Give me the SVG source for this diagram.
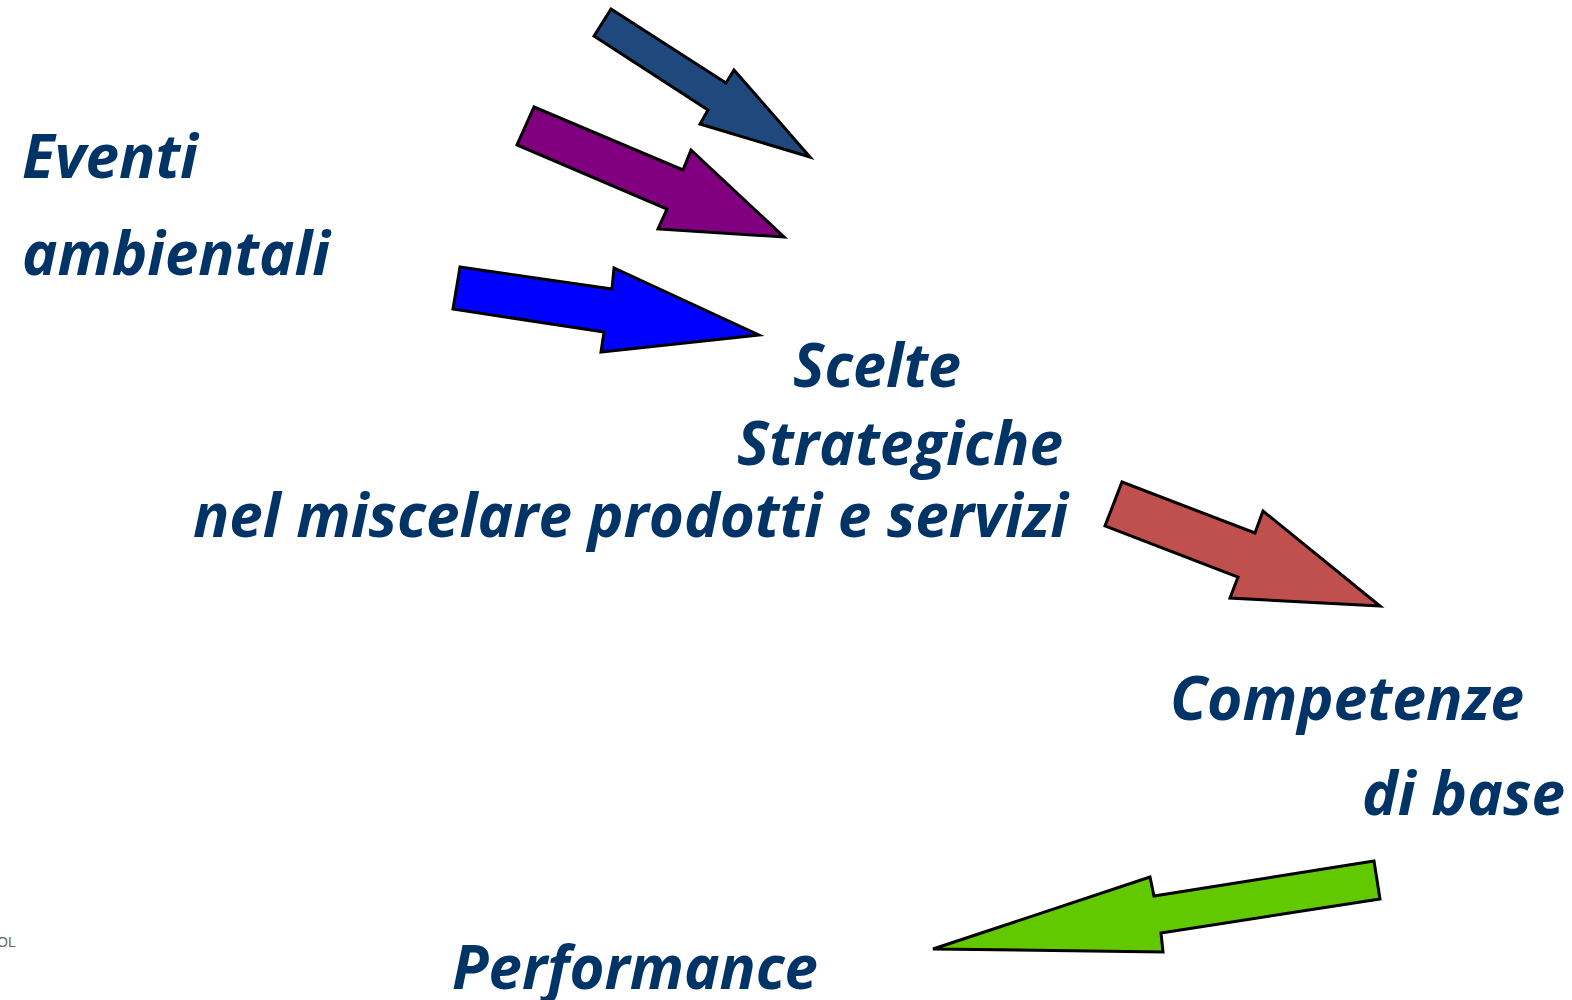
<svg xmlns="http://www.w3.org/2000/svg" width="1572" height="1000" viewBox="0 0 1572 1000">
<style>
.t{font-family:"Open Sans","Noto Sans","Liberation Sans",sans-serif;font-weight:bold;font-style:italic;font-size:61px;fill:#003366}
.a{stroke:#000;stroke-width:3;stroke-linejoin:miter}
.s{font-family:"Liberation Sans",Arial,sans-serif;font-size:14px;fill:#666}
</style>
<rect width="1572" height="1000" fill="#fff"/>
<g id="connectors">
<polygon id="arrow-darkblue" class="a" fill="#1F497D" points="611,9 726,83 734,70 810,157 700,124 708,110 594,36"/>
<polygon id="arrow-purple" class="a" fill="#800080" points="534,107 683,170 691,150 784,237 658,229 667,209 517,145"/>
<polygon id="arrow-blue" class="a" fill="#0000FF" points="460,267 612,289 614,268 759,335 601,352 604,332 453,309"/>
<polygon id="arrow-red" class="a" fill="#C0504D" points="1122,482 1255,533 1263,511 1380,606 1230,598 1238,577 1105,526"/>
<polygon id="arrow-green" class="a" fill="#62C800" points="1374,861 1380,899 1161,933 1163,952 933,949 1150,877 1154,896"/>
</g>
<g id="node-eventi">
<text class="t" x="22" y="178" textLength="176" lengthAdjust="spacingAndGlyphs">Eventi</text>
<text class="t" x="22" y="275" textLength="308" lengthAdjust="spacingAndGlyphs">ambientali</text>
</g>
<g id="node-scelte">
<text class="t" x="793" y="387" textLength="168" lengthAdjust="spacingAndGlyphs">Scelte</text>
<text class="t" x="737" y="465" textLength="326" lengthAdjust="spacingAndGlyphs">Strategiche</text>
<text class="t" x="193" y="537" textLength="875" lengthAdjust="spacingAndGlyphs">nel miscelare prodotti e servizi</text>
</g>
<g id="node-competenze">
<text class="t" x="1170" y="720" textLength="354" lengthAdjust="spacingAndGlyphs">Competenze</text>
<text class="t" x="1362" y="815" textLength="203" lengthAdjust="spacingAndGlyphs">di base</text>
</g>
<g id="node-performance">
<text class="t" x="452" y="989" textLength="366" lengthAdjust="spacingAndGlyphs">Performance</text>
</g>
<text class="s" x="-3" y="947">OL</text>
</svg>
